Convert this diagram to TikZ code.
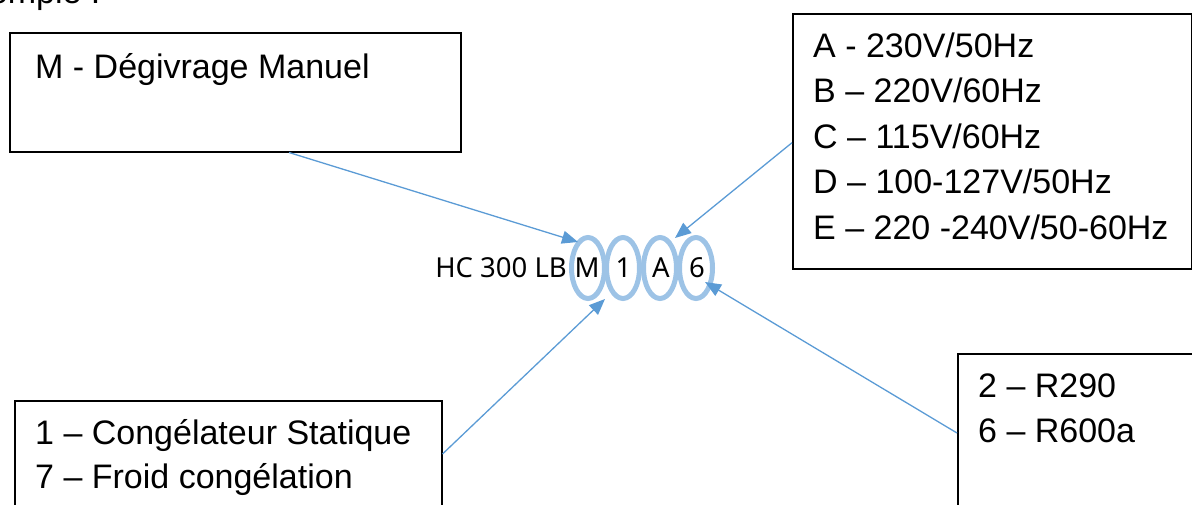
\documentclass[tikz,border=0pt]{standalone}
\usepackage{fontspec}
\setmainfont{Liberation Sans}
\newfontfamily\codefont{Noto Sans}
\usetikzlibrary{arrows.meta,calc,shapes.geometric}
\definecolor{arrowblue}{HTML}{5B9BD5}
\definecolor{ringblue}{HTML}{9DC3E6}
\begin{document}
\begin{tikzpicture}[x=1pt,y=-1pt,
  box/.style={draw=black,line width=1.5pt,inner sep=0pt,anchor=north west},
  boxtext/.style={anchor=base west,inner sep=0pt,font=\fontsize{34}{45}\selectfont},
  ring/.style={ellipse,draw=ringblue,line width=5pt,minimum width=33pt,minimum height=61pt,inner sep=0pt},
  code/.style={inner sep=0pt,anchor=base,font=\codefont\fontsize{27.5}{30}\selectfont},
  link/.style={draw=arrowblue,line width=1.3pt,-{Triangle[length=16pt,width=13pt]}}
]
\useasboundingbox (0,0) rectangle (1192,504);
\clip (0,0) rectangle (1192,504);

% heading (cut off at the top)
\node[boxtext] (head) at (-51,3) {Exemple :};

% boxes
\node[box,minimum width=451pt,minimum height=119pt] (tl) at (9,32) {};
\node[box,minimum width=399pt,minimum height=255pt] (tr) at (792,13) {};
\node[box,minimum width=427pt,minimum height=140pt] (bl) at (14,400) {};
\node[box,minimum width=300pt,minimum height=190pt] (br) at (957,353) {};

% box texts
\node[boxtext] (tl1) at (35,78) {M - Dégivrage Manuel};
\node[boxtext] (tr1) at (813,57) {A - 230V/50Hz};
\node[boxtext] (tr2) at (813,102.5) {B – 220V/60Hz};
\node[boxtext] (tr3) at (813,148) {C – 115V/60Hz};
\node[boxtext] (tr4) at (813,193.5) {D – 100-127V/50Hz};
\node[boxtext] (tr5) at (813,239) {E – 220 -240V/50-60Hz};
\node[boxtext] (bl1) at (35,444) {1 – Congélateur Statique};
\node[boxtext] (bl2) at (35,488) {7 – Froid congélation};
\node[boxtext] (br1) at (978,397) {2 – R290};
\node[boxtext] (br2) at (978,442) {6 – R600a};

% code
\node[code,anchor=base east] (hc) at (567,277) {HC 300 LB};
\node[ring] (e1) at (588,268) {};
\node[ring] (e2) at (623,268) {};
\node[ring] (e3) at (660,268) {};
\node[ring] (e4) at (696,268) {};
\node[code] (c1) at (587,277) {M};
\node[code] (c2) at (623.5,277) {1};
\node[code] (c3) at (661,277) {A};
\node[code] (c4) at (697,277) {6};

% connector ends
\coordinate (s1) at ($(tl.south west)+(280,0)$);
\coordinate (s2) at ($(tr.north west)+(0,129.7)$);
\coordinate (s3) at ($(bl.north east)+(0,54)$);
\coordinate (s4) at ($(br.north west)+(0,80)$);
\coordinate (t1) at ($(e1.center)+(-10,-26)$);
\coordinate (t2) at ($(e3.center)+(15,-30)$);
\coordinate (t3) at ($(e2.center)+(-18,31)$);
\coordinate (t4) at ($(e4.center)+(9,14)$);

\draw[link] (s1) -- (t1);
\draw[link] (s2) -- (t2);
\draw[link] (s3) -- (t3);
\draw[link] (s4) -- (t4);
\end{tikzpicture}
\end{document}
